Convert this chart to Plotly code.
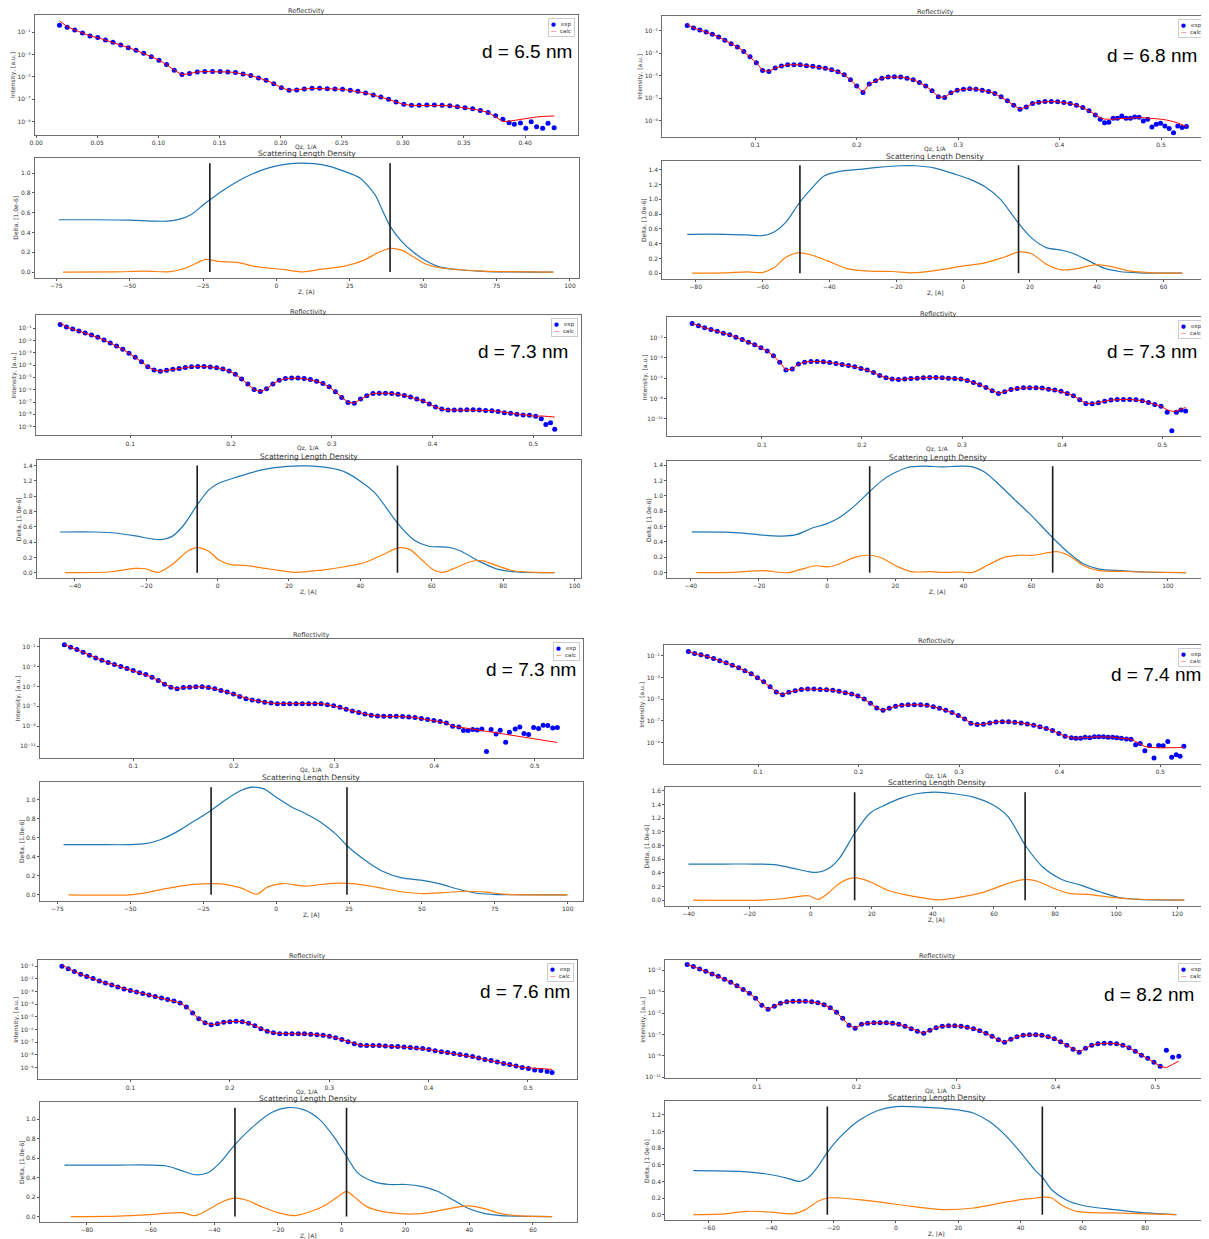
import plotly.graph_objects as go

W, H = 1209, 1239
OFF = 8  # the page body adds an 8 px margin; the figure is shrunk and shifted to compensate

# ================= DATA =================
# log10 intensities are stored; SLD in units of 1e-6
# ---- d = 6.5 nm
A_Q = [0.0191,0.0254,0.0316,0.0379,0.0441,0.0504,0.0567,0.0629,0.0692,0.0754,0.0817,0.0880,0.0942,0.1005,0.1067,0.1130,0.1193,0.1255,0.1318,0.1380,
       0.1443,0.1506,0.1568,0.1631,0.1693,0.1756,0.1819,0.1881,0.1944,0.2006,0.2069,0.2132,0.2194,0.2257,0.2319,0.2382,0.2445,0.2507,0.2570,0.2632,
       0.2695,0.2758,0.2820,0.2883,0.2945,0.3008,0.3071,0.3133,0.3196,0.3258,0.3321,0.3384,0.3446,0.3509,0.3571,0.3634,0.3697,0.3759,
       0.3818,0.3869,0.3912,0.3962,0.4006,0.4050,0.4094,0.4144,0.4188,0.4238]
A_EXP = [-0.37,-0.55,-0.79,-1.06,-1.33,-1.48,-1.69,-1.90,-2.14,-2.38,-2.62,-2.89,-3.19,-3.51,-3.90,-4.41,-4.80,-4.71,-4.56,-4.53,
         -4.53,-4.53,-4.56,-4.62,-4.74,-4.89,-5.10,-5.31,-5.61,-5.97,-6.21,-6.18,-6.09,-6.03,-6.03,-6.06,-6.09,-6.12,-6.21,-6.30,
         -6.45,-6.63,-6.81,-7.02,-7.26,-7.47,-7.56,-7.56,-7.53,-7.53,-7.56,-7.59,-7.68,-7.77,-7.86,-8.01,-8.19,-8.49,
         -8.81,-9.11,-9.26,-9.14,-9.62,-9.02,-9.47,-9.62,-9.17,-9.56]
A_CALC_HEAD = [0.02, -0.49]
A_CALC_TAIL = [-8.60,-9.00,-8.98,-8.90,-8.80,-8.70,-8.64,-8.60,-8.55,-8.52,-8.51]
A_ZB = [-74.2,-61.6,-50,-42,-37,-33,-29,-25,-22.7,-18.5,-13.3,-8.1,-2.9,2.3,7.6,12.8,18,23.2,28.4,33.6,36,38.7,42.8,46.7,50.6,55.8,62.3,68.9,75.4,94.3]
A_B = [0.529,0.529,0.525,0.515,0.515,0.535,0.583,0.678,0.73,0.82,0.915,0.993,1.05,1.085,1.10,1.095,1.068,1.017,0.95,0.78,0.63,0.465,0.305,0.2,0.12,0.05,0.024,0.01,0.003,0.0]
A_ZO = [-72.7,-55,-44.6,-37,-31.6,-27.7,-24,-19.8,-13.3,-8.1,-2.9,2.3,8.9,15.4,23.2,29.7,35,38.9,42.8,46.7,50.6,55.8,62.3,70.1,94.3]
A_O = [0,0.003,0.01,0.003,0.034,0.085,0.129,0.108,0.098,0.061,0.041,0.027,0.003,0.03,0.061,0.119,0.203,0.24,0.22,0.153,0.085,0.044,0.024,0.01,0]
A_VL = [-22.7, 38.7]
A_VTOP = 1.10

# ---- d = 6.8 nm
B_Q = [0.0328,0.0390,0.0452,0.0514,0.0576,0.0638,0.0699,0.0761,0.0823,0.0885,0.0947,0.1009,0.1071,0.1133,0.1195,0.1257,0.1318,0.1380,0.1442,0.1504,
       0.1566,0.1628,0.1690,0.1752,0.1814,0.1876,0.1937,0.1999,0.2061,0.2123,0.2185,0.2247,0.2309,0.2371,0.2433,0.2495,0.2556,0.2618,0.2680,0.2742,
       0.2804,0.2866,0.2928,0.2990,0.3052,0.3114,0.3175,0.3237,0.3299,0.3361,0.3423,0.3485,0.3547,0.3609,0.3671,0.3733,0.3794,0.3856,0.3918,0.3980,
       0.4042,0.4104,0.4166,0.4228,0.4290,0.4352,
       0.4400,0.4443,0.4485,0.4528,0.4570,0.4613,0.4655,0.4698,0.4740,0.4783,0.4825,0.4868,0.4910,0.4953,0.4995,0.5038,0.5080,0.5123,0.5165,0.5208,0.5250]
B_EXP = [-0.55,-0.76,-0.94,-1.12,-1.33,-1.57,-1.86,-2.16,-2.46,-2.85,-3.32,-3.86,-4.54,-4.63,-4.33,-4.15,-4.04,-4.04,-4.04,-4.12,
         -4.18,-4.27,-4.36,-4.48,-4.66,-4.93,-5.38,-5.94,-6.51,-5.76,-5.46,-5.23,-5.14,-5.11,-5.14,-5.23,-5.38,-5.61,-5.94,-6.36,
         -6.89,-6.95,-6.54,-6.30,-6.21,-6.18,-6.21,-6.30,-6.42,-6.60,-6.89,-7.25,-7.64,-7.99,-7.79,-7.49,-7.37,-7.31,-7.31,-7.34,
         -7.40,-7.49,-7.64,-7.85,-8.14,-8.50,
         -8.89,-9.21,-9.15,-8.80,-8.80,-8.59,-8.80,-8.80,-8.68,-8.71,-9.04,-8.89,-9.57,-9.33,-9.24,-9.48,-9.72,-10.08,-9.48,-9.63,-9.54]
B_CALC_HEAD = [-0.46]
B_CALC_TAIL = [-8.75,-8.88,-8.90,-8.88,-8.85,-8.82,-8.80,-8.78,-8.76,-8.75,-8.75,-8.77,-8.80,-8.84,-8.88,-8.93,-9.00,-9.10,-9.22,-9.38,-9.54]
B_ZB = [-82.5,-71.4,-64.6,-60,-56.5,-53.1,-48.8,-45.1,-41.6,-37,-31.3,-25.6,-18.7,-14.1,-8.4,-2.5,2.1,6.6,11.2,16.6,20.4,24.9,29.6,33,37.6,42.2,46.8,52.5,65.6]
B_B = [0.527,0.527,0.518,0.509,0.559,0.685,0.964,1.158,1.315,1.378,1.405,1.432,1.455,1.455,1.423,1.342,1.27,1.17,1.0,0.676,0.482,0.347,0.311,0.266,0.167,0.068,0.023,0.005,0]
B_ZO = [-81.1,-71.4,-64.6,-60,-56.5,-53.1,-49.6,-46.2,-40.5,-34.7,-27.9,-21,-15.3,-8.4,-0.2,6.6,12.4,16.9,20.4,24.9,29.6,34.1,39.8,44.4,50.1,57,65.6]
B_O = [0,0.005,0.018,0.009,0.077,0.212,0.275,0.257,0.167,0.063,0.027,0.023,0.005,0.036,0.095,0.14,0.22,0.288,0.266,0.122,0.045,0.063,0.117,0.09,0.027,0.005,0]
B_VL = [-48.8, 16.6]
B_VTOP = 1.46

# ---- d = 7.3 nm (row 2, left)
C_Q = [0.0304,0.0366,0.0428,0.0490,0.0552,0.0615,0.0677,0.0739,0.0801,0.0863,0.0925,0.0987,0.1049,0.1111,0.1173,0.1236,0.1298,0.1360,0.1422,0.1484,
       0.1546,0.1608,0.1670,0.1732,0.1794,0.1857,0.1919,0.1981,0.2043,0.2105,0.2167,0.2229,0.2291,0.2353,0.2415,0.2478,0.2540,0.2602,0.2664,0.2726,
       0.2788,0.2850,0.2912,0.2974,0.3036,0.3099,0.3161,0.3223,0.3285,0.3347,0.3409,0.3471,0.3533,0.3595,0.3657,0.3720,0.3782,0.3844,0.3906,0.3968,
       0.4030,0.4092,0.4154,0.4216,0.4278,0.4341,0.4403,0.4465,0.4527,0.4589,0.4651,0.4713,0.4775,0.4837,0.4899,0.4962,0.5024,
       0.5080,0.5125,0.5171,0.5213]
C_EXP = [-0.71,-0.92,-1.08,-1.24,-1.40,-1.56,-1.75,-1.97,-2.21,-2.45,-2.72,-3.04,-3.36,-3.73,-4.14,-4.40,-4.51,-4.43,-4.35,-4.27,
         -4.19,-4.14,-4.11,-4.11,-4.16,-4.22,-4.32,-4.49,-4.75,-5.13,-5.53,-5.99,-6.15,-5.93,-5.53,-5.24,-5.10,-5.05,-5.05,-5.10,
         -5.18,-5.32,-5.50,-5.77,-6.17,-6.63,-7.03,-7.09,-6.76,-6.50,-6.31,-6.28,-6.28,-6.31,-6.36,-6.47,-6.60,-6.76,-6.92,-7.17,
         -7.41,-7.57,-7.65,-7.65,-7.65,-7.62,-7.62,-7.65,-7.68,-7.70,-7.76,-7.86,-7.92,-8.00,-8.05,-8.08,-8.16,
         -8.35,-8.83,-8.69,-9.20]
C_CALC_HEAD = [-0.57]
C_CALC_TAIL = [-8.13,-8.16,-8.19,-8.22]
C_ZB = [-44.1,-34.1,-28.7,-23.4,-18,-15.9,-12.7,-9.4,-5.7,-2.5,0.2,5.6,12,19.5,24.9,31.3,35.6,39.9,44.2,50.4,54.9,59.2,64.6,67.8,73.2,78.6,84,94.4]
C_B = [0.532,0.532,0.519,0.484,0.44,0.432,0.475,0.627,0.886,1.08,1.167,1.253,1.34,1.39,1.396,1.37,1.318,1.20,1.037,0.648,0.432,0.346,0.333,0.29,0.151,0.043,0.009,0]
C_ZO = [-42.7,-29.8,-23.4,-20.2,-16.6,-12.7,-8.4,-5.7,-2.5,0.2,3.4,7.7,14.2,21.7,29.2,35.6,41,46.4,50.6,53.9,57.1,60.3,63,66.7,71,74.3,78.6,82.9,89.3,94.4]
C_O = [0,0.013,0.056,0.052,0.004,0.108,0.281,0.328,0.281,0.173,0.108,0.095,0.052,0.004,0.035,0.078,0.13,0.238,0.324,0.302,0.173,0.043,0.004,0.065,0.147,0.156,0.086,0.026,0.004,0]
C_VL = [-5.7, 50.4]
C_VTOP = 1.40

# ---- d = 7.3 nm (row 2, right)
D_Q = [0.0303,0.0366,0.0428,0.0491,0.0553,0.0615,0.0678,0.0740,0.0803,0.0865,0.0928,0.0990,0.1053,0.1115,0.1178,0.1240,0.1303,0.1365,0.1427,0.1490,
       0.1552,0.1615,0.1677,0.1740,0.1802,0.1865,0.1927,0.1990,0.2052,0.2115,0.2177,0.2240,0.2302,0.2364,0.2427,0.2489,0.2552,0.2614,0.2677,0.2739,
       0.2802,0.2864,0.2927,0.2989,0.3052,0.3114,0.3176,0.3239,0.3301,0.3364,0.3426,0.3489,0.3551,0.3614,0.3676,0.3739,0.3801,0.3864,0.3926,0.3989,
       0.4051,0.4113,0.4176,0.4238,0.4301,0.4363,0.4426,0.4488,0.4551,0.4613,0.4676,0.4738,0.4801,0.4863,0.4926,0.4988,
       0.5050,0.5096,0.5142,0.5188,0.5234]
D_EXP = [-0.63,-0.86,-1.05,-1.22,-1.38,-1.58,-1.74,-1.97,-2.20,-2.46,-2.72,-3.01,-3.34,-3.80,-4.42,-5.20,-5.10,-4.61,-4.42,-4.35,
         -4.35,-4.39,-4.45,-4.55,-4.65,-4.75,-4.88,-5.04,-5.20,-5.43,-5.73,-5.95,-6.08,-6.12,-6.08,-6.02,-5.99,-5.95,-5.92,-5.92,
         -5.95,-5.99,-6.02,-6.08,-6.22,-6.41,-6.64,-6.90,-7.23,-7.49,-7.33,-7.10,-7.00,-6.93,-6.93,-6.93,-6.97,-7.07,-7.16,-7.29,
         -7.49,-7.72,-8.11,-8.47,-8.50,-8.41,-8.27,-8.14,-8.08,-8.08,-8.08,-8.11,-8.21,-8.37,-8.57,-8.76,
         -9.35,-11.15,-9.35,-9.12,-9.22]
D_CALC_HEAD = []
D_CALC_TAIL = [-9.10,-9.25,-9.22,-9.05,-8.86]
D_ZB = [-39.7,-30.1,-24.5,-18.9,-13.3,-8.8,-4.5,0,3.4,7.9,12.5,15.7,19.1,23.6,28.1,33.7,39.3,42.7,46.1,50.6,55.1,59.7,66.2,70.8,75.3,79.8,86.5,93.3,105.3]
D_B = [0.532,0.528,0.515,0.489,0.476,0.498,0.579,0.639,0.712,0.863,1.056,1.185,1.283,1.369,1.386,1.378,1.386,1.378,1.313,1.142,0.948,0.755,0.455,0.262,0.112,0.047,0.026,0.009,0]
D_ZO = [-38.4,-28.1,-18.9,-11.6,-7.9,-3.4,0.6,3.4,7.9,11.8,15.7,20.2,24.7,30.3,34.8,39.3,42.7,47.2,51.7,56.2,60.7,64,67.4,70.8,75.3,79.8,86.5,93.3,105.3]
D_O = [0,0.004,0.026,0,0.039,0.09,0.077,0.112,0.197,0.227,0.197,0.09,0.013,0.013,0.004,0.009,0.004,0.099,0.197,0.227,0.227,0.253,0.275,0.227,0.09,0.026,0.017,0.009,0]
D_VL = [12.5, 66.2]
D_VTOP = 1.386

# ---- d = 7.3 nm (row 3, left)
E_Q = [0.0313,0.0375,0.0438,0.0500,0.0563,0.0625,0.0687,0.0750,0.0812,0.0875,0.0937,0.0999,0.1062,0.1124,0.1187,0.1249,0.1311,0.1374,0.1436,0.1499,
       0.1561,0.1623,0.1686,0.1748,0.1811,0.1873,0.1935,0.1998,0.2060,0.2123,0.2185,0.2247,0.2310,0.2372,0.2435,0.2497,0.2559,0.2622,0.2684,0.2747,
       0.2809,0.2871,0.2934,0.2996,0.3059,0.3121,0.3183,0.3246,0.3308,0.3371,0.3433,0.3495,0.3558,0.3620,0.3683,0.3745,0.3807,0.3870,0.3932,0.3995,
       0.4057,0.4119,0.4182,0.4244,
       0.4290,0.4336,0.4382,0.4427,0.4473,0.4519,0.4565,0.4615,0.4656,0.4710,0.4748,0.4805,0.4851,0.4893,0.4939,0.4989,0.5038,0.5084,0.5130,0.5179,0.5225]
E_EXP = [-0.80,-1.07,-1.30,-1.57,-1.87,-2.13,-2.37,-2.60,-2.80,-3.00,-3.20,-3.40,-3.63,-3.80,-4.07,-4.40,-4.77,-5.07,-5.23,-5.10,
         -5.07,-5.03,-5.03,-5.10,-5.23,-5.40,-5.57,-5.77,-6.00,-6.23,-6.37,-6.47,-6.60,-6.67,-6.73,-6.73,-6.73,-6.73,-6.73,-6.73,
         -6.73,-6.73,-6.83,-6.93,-7.10,-7.30,-7.47,-7.63,-7.77,-7.90,-7.97,-8.00,-8.00,-8.00,-8.03,-8.07,-8.13,-8.23,-8.33,-8.43,
         -8.53,-8.67,-9.00,-9.07,
         -9.43,-9.43,-9.33,-9.37,-9.27,-11.53,-9.33,-9.77,-9.40,-10.60,-9.60,-9.27,-9.07,-9.73,-9.83,-9.13,-9.23,-8.90,-8.93,-9.17,-9.13]
E_CALC_HEAD = [-0.75]
E_CALC_TAIL = [-9.14,-9.22,-9.29,-9.36,-9.43,-9.51,-9.58,-9.66,-9.73,-9.81,-9.87,-9.96,-10.04,-10.10,-10.17,-10.25,-10.33,-10.41,-10.48,-10.56,-10.63]
E_ZB = [-72.9,-62,-50.2,-44.9,-39.7,-34.4,-29.2,-22.3,-17.3,-12.1,-8.1,-4.2,-0.3,5,10.2,15.4,20.7,24.3,29.9,36.5,43.1,49.7,56.2,62.8,69.4,76,99.6]
E_B = [0.528,0.528,0.528,0.538,0.58,0.657,0.755,0.888,1.0,1.098,1.133,1.115,1.035,0.93,0.853,0.762,0.633,0.517,0.378,0.248,0.178,0.154,0.115,0.056,0.014,0.003,0]
E_ZO = [-71.2,-50.2,-44.9,-38.4,-31.8,-25.2,-18.7,-12.1,-6.6,-2.9,2.4,10.2,18.1,26,33.9,41.8,49.7,57.6,65.4,72,78.6,100]
E_O = [0,0,0.021,0.063,0.098,0.115,0.115,0.073,0.007,0.084,0.119,0.091,0.119,0.119,0.084,0.038,0.014,0.024,0.038,0.028,0.007,0]
E_VL = [-22.3, 24.3]
E_VTOP = 1.133

# ---- d = 7.4 nm
F_Q = [0.0307,0.0369,0.0432,0.0494,0.0557,0.0619,0.0682,0.0744,0.0807,0.0869,0.0932,0.0994,0.1056,0.1119,0.1181,0.1244,0.1306,0.1369,0.1431,0.1494,
       0.1556,0.1618,0.1681,0.1743,0.1806,0.1868,0.1931,0.1993,0.2056,0.2118,0.2181,0.2243,0.2305,0.2368,0.2430,0.2493,0.2555,0.2618,0.2680,0.2743,
       0.2805,0.2867,0.2930,0.2992,0.3055,0.3117,0.3180,0.3242,0.3305,0.3367,0.3430,0.3492,0.3554,0.3617,0.3679,0.3742,0.3804,0.3867,0.3929,0.3992,
       0.4054,0.4117,
       0.4162,0.4208,0.4253,0.4299,0.4345,0.4390,0.4436,0.4482,0.4528,0.4570,0.4615,0.4665,0.4710,
       0.4756,0.4802,0.4848,0.4893,0.4939,0.4985,0.5030,0.5076,0.5114,0.5160,0.5198,0.5236]
F_EXP = [-0.60,-0.79,-0.91,-1.06,-1.24,-1.46,-1.64,-1.86,-2.10,-2.38,-2.65,-3.02,-3.39,-3.84,-4.33,-4.58,-4.36,-4.21,-4.09,-4.06,
         -4.06,-4.09,-4.12,-4.18,-4.27,-4.39,-4.52,-4.70,-4.98,-5.37,-5.80,-6.02,-5.83,-5.65,-5.56,-5.50,-5.50,-5.50,-5.56,-5.68,
         -5.83,-6.02,-6.23,-6.50,-6.81,-7.21,-7.33,-7.30,-7.18,-7.09,-7.06,-7.06,-7.12,-7.18,-7.27,-7.39,-7.54,-7.70,-7.88,-8.16,
         -8.40,-8.55,
         -8.58,-8.58,-8.49,-8.55,-8.46,-8.46,-8.46,-8.49,-8.49,-8.55,-8.58,-8.65,-8.68,
         -9.20,-9.07,-9.75,-9.26,-10.42,-9.26,-9.29,-8.89,-10.33,-10.11,-10.24,-9.32]
F_CALC_HEAD = []
F_CALC_TAIL = [-8.90,-9.15,-9.35,-9.43,-9.47,-9.47,-9.47,-9.47,-9.47,-9.47,-9.45,-9.40]
F_ZB = [-40,-28.2,-18.2,-11.9,-5.6,-0.6,1.9,5.6,9.4,14.4,19.4,24.5,29.5,34.5,40.8,47,53.3,59.6,64.6,70.2,75.9,82.2,88.4,94.7,101,107.3,122.3]
F_B = [0.528,0.528,0.528,0.519,0.465,0.416,0.406,0.455,0.612,0.978,1.272,1.394,1.492,1.556,1.58,1.556,1.507,1.394,1.223,0.807,0.489,0.303,0.22,0.122,0.039,0.01,0]
F_ZO = [-38.5,-15.7,-9.4,-3.1,-0.6,2.5,5.6,9.4,14.4,19.4,25.7,33.2,42,49.5,57,64.6,70.2,74.6,79.6,84.6,90.9,97.1,103.4,122.3]
F_O = [0,0,0.02,0.059,0.064,0.01,0.098,0.245,0.328,0.269,0.137,0.059,0.005,0.049,0.122,0.245,0.303,0.269,0.171,0.098,0.083,0.049,0.02,0]
F_VL = [14.4, 70.2]
F_VTOP = 1.58

# ---- d = 7.6 nm
G_Q = [0.0310,0.0373,0.0435,0.0498,0.0560,0.0623,0.0686,0.0748,0.0811,0.0873,0.0936,0.0999,0.1061,0.1124,0.1186,0.1249,0.1312,0.1374,0.1437,0.1499,
       0.1562,0.1625,0.1687,0.1750,0.1812,0.1875,0.1938,0.2000,0.2063,0.2125,0.2188,0.2251,0.2313,0.2376,0.2438,0.2501,0.2564,0.2626,0.2689,0.2751,
       0.2814,0.2877,0.2939,0.3002,0.3064,0.3127,0.3190,0.3252,0.3315,0.3377,0.3440,0.3503,0.3565,0.3628,0.3690,0.3753,0.3816,0.3878,0.3941,0.4003,
       0.4066,0.4129,0.4191,0.4254,0.4316,0.4379,0.4442,0.4504,0.4567,0.4629,0.4692,0.4755,0.4817,0.4880,0.4942,0.5005,0.5068,0.5130,0.5193,0.5243]
G_EXP = [-1.00,-1.20,-1.43,-1.63,-1.82,-1.98,-2.18,-2.33,-2.49,-2.65,-2.80,-2.92,-3.04,-3.16,-3.27,-3.39,-3.51,-3.63,-3.75,-3.90,
         -4.22,-4.69,-5.16,-5.47,-5.63,-5.55,-5.43,-5.39,-5.35,-5.39,-5.51,-5.71,-5.94,-6.14,-6.25,-6.33,-6.33,-6.33,-6.33,-6.33,
         -6.37,-6.41,-6.45,-6.53,-6.65,-6.80,-6.96,-7.12,-7.24,-7.27,-7.27,-7.27,-7.31,-7.35,-7.35,-7.39,-7.43,-7.47,-7.51,-7.59,
         -7.67,-7.75,-7.82,-7.90,-7.98,-8.06,-8.14,-8.25,-8.37,-8.45,-8.57,-8.69,-8.76,-8.88,-9.00,-9.08,-9.20,-9.24,-9.31,-9.39]
G_CALC_HEAD = [-0.90]
G_CALC_TAIL = [-9.02,-9.06,-9.09,-9.12,-9.15]
G_ZB = [-87,-70,-60,-55,-50,-46,-42,-38,-33.5,-28,-22,-17,-12,-7,-2,1.5,5,10,15,20,25,30,35,40,45,50,55,66]
G_B = [0.53,0.53,0.53,0.52,0.47,0.43,0.45,0.56,0.74,0.92,1.07,1.12,1.10,1.0,0.8,0.62,0.45,0.36,0.33,0.33,0.31,0.26,0.17,0.08,0.03,0.01,0.004,0]
G_ZO = [-85,-70,-60,-55,-50,-46,-42,-37,-33.5,-30,-25,-20,-15,-10,-5,-1,1.5,4,8,15,25,35,40,45,50,55,66]
G_O = [0,0.005,0.02,0.035,0.04,0.01,0.07,0.16,0.19,0.17,0.1,0.04,0.01,0.05,0.12,0.21,0.26,0.2,0.1,0.04,0.03,0.09,0.11,0.08,0.03,0.01,0]
G_VL = [-33.5, 1.5]
G_VTOP = 1.12

# ---- d = 8.2 nm
H_Q = [0.0300,0.0362,0.0425,0.0487,0.0550,0.0612,0.0675,0.0737,0.0800,0.0862,0.0925,0.0987,0.1050,0.1112,0.1175,0.1237,0.1300,0.1362,0.1425,0.1487,
       0.1550,0.1612,0.1675,0.1737,0.1800,0.1862,0.1925,0.1987,0.2050,0.2112,0.2175,0.2237,0.2300,0.2362,0.2425,0.2487,0.2550,0.2612,0.2675,0.2737,
       0.2800,0.2862,0.2925,0.2987,0.3050,0.3112,0.3175,0.3237,0.3300,0.3362,0.3425,0.3487,0.3550,0.3612,0.3675,0.3737,0.3800,0.3862,0.3925,0.3987,
       0.4050,0.4112,0.4175,0.4237,0.4300,0.4362,0.4425,0.4487,0.4550,0.4612,0.4675,0.4737,0.4800,0.4862,0.4925,0.4987,0.5050,0.5112,0.5175,0.5237]
H_EXP = [-0.44,-0.63,-0.86,-1.09,-1.33,-1.56,-1.84,-2.12,-2.45,-2.78,-3.15,-3.62,-4.27,-4.64,-4.36,-4.08,-3.94,-3.90,-3.90,-3.90,
         -3.94,-4.04,-4.22,-4.50,-4.93,-5.49,-6.14,-6.42,-6.05,-5.95,-5.91,-5.91,-5.91,-5.95,-6.05,-6.23,-6.47,-6.70,-6.89,-6.61,
         -6.37,-6.23,-6.19,-6.19,-6.23,-6.33,-6.47,-6.65,-6.89,-7.17,-7.50,-7.73,-7.45,-7.21,-7.07,-7.03,-7.03,-7.07,-7.21,-7.40,
         -7.68,-8.01,-8.38,-8.66,-8.29,-8.01,-7.87,-7.82,-7.82,-7.87,-8.01,-8.24,-8.57,-8.94,-9.22,-9.60,-9.97,-8.48,-9.13,-9.04]
H_CALC_HEAD = []
H_CALC_TAIL = [-9.20,-9.60,-10.00,-10.10,-9.80,-9.50]
H_ZB = [-65,-50,-40,-35,-31,-28,-25,-22,-18,-12,-6,0,5,10,15,20,25,30,35,40,45,47,50,55,60,70,80,90]
H_B = [0.53,0.52,0.48,0.44,0.40,0.45,0.58,0.75,0.93,1.13,1.25,1.30,1.30,1.29,1.28,1.26,1.22,1.12,0.96,0.75,0.52,0.45,0.30,0.17,0.11,0.06,0.02,0]
H_ZO = [-65,-55,-48,-40,-33,-29,-25,-22,-18,-12,-5,5,15,25,35,40,45,47,50,53,58,70,80,90]
H_O = [0,0.01,0.04,0.03,0.01,0.06,0.16,0.2,0.2,0.18,0.15,0.1,0.06,0.08,0.15,0.18,0.2,0.21,0.2,0.12,0.04,0.02,0.01,0]
H_VL = [-22, 47]
H_VTOP = 1.30

LABELS = ["d = 6.5 nm", "d = 6.8 nm", "d = 7.3 nm", "d = 7.3 nm", "d = 7.3 nm", "d = 7.4 nm", "d = 7.6 nm", "d = 8.2 nm"]
LEGEND_TEXT = ["exp", "calc"]
RX_TICKS_A = [0.00, 0.05, 0.10, 0.15, 0.20, 0.25, 0.30, 0.35, 0.40]
RX_TICKS = [0.1, 0.2, 0.3, 0.4, 0.5]
RY_EXP = {
    "A": [-1, -3, -5, -7, -9], "B": [-1, -3, -5, -7, -9],
    "C": [-1, -2, -3, -4, -5, -6, -7, -8, -9], "D": [-2, -4, -6, -8, -10],
    "E": [-1, -3, -5, -7, -9, -11], "F": [-1, -3, -5, -7, -9],
    "G": [-1, -2, -3, -4, -5, -6, -7, -8, -9], "H": [-1, -3, -5, -7, -9, -11],
}
SX_TICKS = {
    "A": [-75, -50, -25, 0, 25, 50, 75, 100], "B": [-80, -60, -40, -20, 0, 20, 40, 60],
    "C": [-40, -20, 0, 20, 40, 60, 80, 100], "D": [-40, -20, 0, 20, 40, 60, 80, 100],
    "E": [-75, -50, -25, 0, 25, 50, 75, 100], "F": [-40, -20, 0, 20, 40, 60, 80, 100, 120],
    "G": [-80, -60, -40, -20, 0, 20, 40, 60], "H": [-60, -40, -20, 0, 20, 40, 60, 80],
}
SY_TICKS = {
    "A": [0.0, 0.2, 0.4, 0.6, 0.8, 1.0], "B": [0.0, 0.2, 0.4, 0.6, 0.8, 1.0, 1.2, 1.4],
    "C": [0.0, 0.2, 0.4, 0.6, 0.8, 1.0, 1.2, 1.4], "D": [0.0, 0.2, 0.4, 0.6, 0.8, 1.0, 1.2, 1.4],
    "E": [0.0, 0.2, 0.4, 0.6, 0.8, 1.0], "F": [0.0, 0.2, 0.4, 0.6, 0.8, 1.0, 1.2, 1.4, 1.6],
    "G": [0.0, 0.2, 0.4, 0.6, 0.8, 1.0], "H": [0.0, 0.2, 0.4, 0.6, 0.8, 1.0, 1.2],
}

DATA = {
    "A": (A_Q, A_EXP, A_CALC_HEAD, A_CALC_TAIL, A_ZB, A_B, A_ZO, A_O, A_VL, A_VTOP),
    "B": (B_Q, B_EXP, B_CALC_HEAD, B_CALC_TAIL, B_ZB, B_B, B_ZO, B_O, B_VL, B_VTOP),
    "C": (C_Q, C_EXP, C_CALC_HEAD, C_CALC_TAIL, C_ZB, C_B, C_ZO, C_O, C_VL, C_VTOP),
    "D": (D_Q, D_EXP, D_CALC_HEAD, D_CALC_TAIL, D_ZB, D_B, D_ZO, D_O, D_VL, D_VTOP),
    "E": (E_Q, E_EXP, E_CALC_HEAD, E_CALC_TAIL, E_ZB, E_B, E_ZO, E_O, E_VL, E_VTOP),
    "F": (F_Q, F_EXP, F_CALC_HEAD, F_CALC_TAIL, F_ZB, F_B, F_ZO, F_O, F_VL, F_VTOP),
    "G": (G_Q, G_EXP, G_CALC_HEAD, G_CALC_TAIL, G_ZB, G_B, G_ZO, G_O, G_VL, G_VTOP),
    "H": (H_Q, H_EXP, H_CALC_HEAD, H_CALC_TAIL, H_ZB, H_B, H_ZO, H_O, H_VL, H_VTOP),
}

# ================= LAYOUT (page-pixel frames: x0, x1, ytop, ybottom) =================
PANELS = [
    dict(key="A", rf=(30, 575, 15, 135), rxr=[-0.001, 0.443], ryr=[-10.2, 0.55],
         sf=(30, 576, 158, 278), sxr=[-82.3, 102.95], syr=[-0.055, 1.155], lab=(524, 52)),
    dict(key="B", rf=(660, 1208, 16, 137), rxr=[0.0082, 0.5463], ryr=[-10.45, 0.3],
         sf=(660, 1208, 161, 279), sxr=[-89.98, 73.29], syr=[-0.0725, 1.5225], lab=(1152, 56)),
    dict(key="C", rf=(31, 578, 316, 436), rxr=[0.0063, 0.547], ryr=[-9.7, 0.02],
         sf=(32, 578, 461, 579), sxr=[-50.6, 101.7], syr=[-0.07, 1.47], lab=(520, 352)),
    dict(key="D", rf=(665, 1208, 318, 437), rxr=[0.0054, 0.5458], ryr=[-11.7, -0.04],
         sf=(665, 1208, 462, 579), sxr=[-46.9, 111.78], syr=[-0.07, 1.45], lab=(1152, 352)),
    dict(key="E", rf=(35, 580, 640, 759), rxr=[0.0069, 0.5477], ryr=[-12.17, -0.23],
         sf=(35, 580, 783, 902), sxr=[-81.0, 105.1], syr=[-0.06, 1.19], lab=(528, 671)),
    dict(key="F", rf=(662, 1208, 646, 765), rxr=[0.0067, 0.5476], ryr=[-10.94, 0.0],
         sf=(663, 1208, 788, 907), sxr=[-47.6, 130.08], syr=[-0.079, 1.659], lab=(1156, 676)),
    dict(key="G", rf=(33, 574, 962, 1081), rxr=[0.0068, 0.549], ryr=[-9.93, -0.55],
         sf=(35, 574, 1104, 1224), sxr=[-94.7, 73.7], syr=[-0.056, 1.176], lab=(522, 993)),
    dict(key="H", rf=(663, 1208, 962, 1080), rxr=[0.008, 0.553], ryr=[-11.1, -0.07],
         sf=(663, 1208, 1103, 1222), sxr=[-74.0, 100.16], syr=[-0.065, 1.365], lab=(1149, 996)),
]

FONT = "DejaVu Sans"
TXT = "#333333"
FRAME = "#6e6e6e"
FW, FH = W - OFF, H - OFF
SUP = str.maketrans("-0123456789", "\u207b\u2070\u00b9\u00b2\u00b3\u2074\u2075\u2076\u2077\u2078\u2079")


def fx(x):
    return (x - OFF) / FW


def fy(y):
    return 1 - (y - OFF) / FH


def minus(s):
    return s.replace("-", "\u2212")


fig = go.Figure()
layout = dict(width=FW, height=FH, margin=dict(l=0, r=0, t=0, b=0, pad=0),
              paper_bgcolor="white", plot_bgcolor="white", showlegend=False,
              font=dict(family=FONT, size=6, color=TXT))
annotations = []


def axis_common():
    return dict(showline=True, mirror=True, linecolor=FRAME, linewidth=1.2,
                ticks="outside", ticklen=2, tickwidth=0.8, tickcolor="#555",
                showgrid=False, zeroline=False,
                tickfont=dict(family=FONT, size=6, color=TXT))


def text_ann(text, x, y, size, angle=0, family=FONT, color=TXT, xanchor="center", yanchor="middle", **kw):
    d = dict(text=text, x=fx(x), y=fy(y), xref="paper", yref="paper",
             xanchor=xanchor, yanchor=yanchor, showarrow=False, textangle=angle,
             font=dict(family=family, size=size, color=color))
    d.update(kw)
    annotations.append(d)


legend_html = (f"<span style='color:blue'>\u25cf</span>   {LEGEND_TEXT[0]}<br>"
               f"<span style='color:red'>\u2014</span>  {LEGEND_TEXT[1]}")

for i, p in enumerate(PANELS):
    key = p["key"]
    Q, EXP, CH, CT, ZB, BV, ZO, OV, VL, VTOP = DATA[key]
    calc = list(CH) + list(EXP[len(CH):len(EXP) - len(CT)]) + list(CT)

    kr, ks = 2 * i + 1, 2 * i + 2
    xr_ref = "x" if kr == 1 else f"x{kr}"
    yr_ref = "y" if kr == 1 else f"y{kr}"
    xs_ref, ys_ref = f"x{ks}", f"y{ks}"

    # ---------- reflectivity ----------
    fig.add_trace(go.Scatter(x=Q, y=[10 ** v for v in EXP], mode="markers", name="exp",
                             marker=dict(color="blue", size=5, line=dict(width=0)),
                             xaxis=xr_ref, yaxis=yr_ref))
    fig.add_trace(go.Scatter(x=Q, y=[10 ** v for v in calc], mode="lines", name="calc",
                             line=dict(color="red", width=1),
                             xaxis=xr_ref, yaxis=yr_ref))
    x0, x1, y0, y1 = p["rf"]
    xt = RX_TICKS_A if key == "A" else RX_TICKS
    fmt = "{:.2f}" if key == "A" else "{:.1f}"
    xa = axis_common()
    xa.update(domain=[fx(x0), fx(x1)], range=p["rxr"], anchor=yr_ref,
              tickvals=xt, ticktext=[fmt.format(v) for v in xt])
    ya = axis_common()
    ye = RY_EXP[key]
    ya.update(domain=[fy(y1), fy(y0)], type="log", range=p["ryr"], anchor=xr_ref,
              tickvals=[10 ** e for e in ye],
              ticktext=["10" + str(e).translate(SUP) for e in ye])
    layout["xaxis" if kr == 1 else f"xaxis{kr}"] = xa
    layout["yaxis" if kr == 1 else f"yaxis{kr}"] = ya
    # legend box (top-right, inside the axes)
    text_ann(legend_html, min(x1 - 3, 1205), y0 + 3, 5.5, xanchor="right", yanchor="top",
             align="left", bgcolor="white", bordercolor="#cccccc", borderwidth=1, borderpad=2)
    text_ann("Reflectivity", (x0 + x1) / 2, y0 - 4, 6.5)
    text_ann("Qz, 1/A", (x0 + x1) / 2, y1 + 12, 6)
    text_ann("Intensity, [a.u.]", x0 - 22, (y0 + y1) / 2, 6, angle=-90)
    lx, ly = p["lab"]
    text_ann(LABELS[i], lx, ly, 19, family="Liberation Sans", color="black")

    # ---------- SLD ----------
    fig.add_trace(go.Scatter(x=ZB, y=BV, mode="lines", line=dict(color="#1f77b4", width=1.2, shape="spline", smoothing=0.8),
                             xaxis=xs_ref, yaxis=ys_ref))
    fig.add_trace(go.Scatter(x=ZO, y=OV, mode="lines", line=dict(color="#ff7f0e", width=1.2, shape="spline", smoothing=0.8),
                             xaxis=xs_ref, yaxis=ys_ref))
    for z in VL:
        fig.add_trace(go.Scatter(x=[z, z], y=[0, VTOP], mode="lines", line=dict(color="#1a1a1a", width=1.6),
                                 xaxis=xs_ref, yaxis=ys_ref))
    x0, x1, y0, y1 = p["sf"]
    sx = SX_TICKS[key]
    sy = SY_TICKS[key]
    xa = axis_common()
    xa.update(domain=[fx(x0), fx(x1)], range=p["sxr"], anchor=ys_ref,
              tickvals=sx, ticktext=[minus(str(v)) for v in sx])
    ya = axis_common()
    ya.update(domain=[fy(y1), fy(y0)], range=p["syr"], anchor=xs_ref,
              tickvals=sy, ticktext=[f"{v:.1f}" for v in sy])
    layout[f"xaxis{ks}"] = xa
    layout[f"yaxis{ks}"] = ya
    text_ann("Scattering Length Density", (x0 + x1) / 2, y0 - 4, 7.5)
    text_ann("Z, [A]", (x0 + x1) / 2, y1 + 13.5, 6)
    text_ann("Delta, [1.0e-6]", x0 - 19, (y0 + y1) / 2, 6, angle=-90)

layout["annotations"] = annotations
fig.update_layout(**layout)
fig.write_html("out.html")
